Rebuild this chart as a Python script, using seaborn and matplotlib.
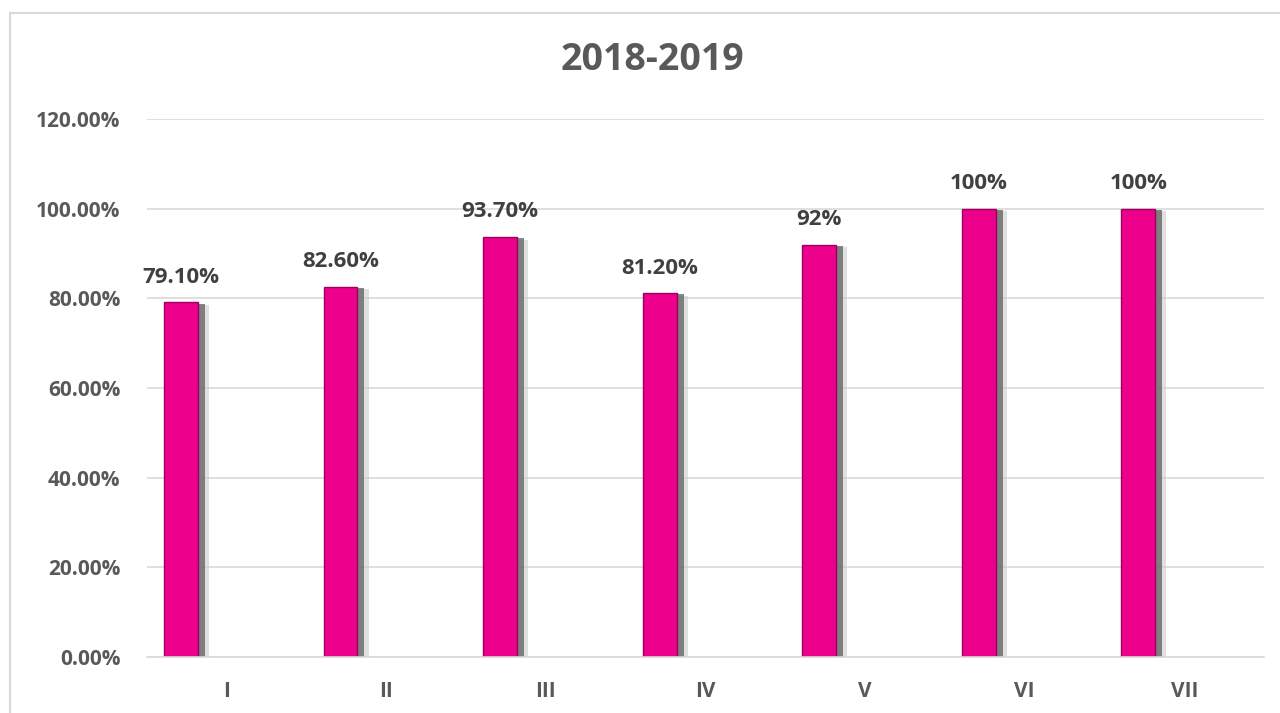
"""
2018-2019 bar chart, Excel style (pink bars, drop shadow).
"""

import numpy as np
import pandas as pd
import matplotlib
matplotlib.use("Agg")
import matplotlib.pyplot as plt
import matplotlib.patheffects as pe
from matplotlib.patches import Rectangle
import seaborn as sns

# data
categories = ["I", "II", "III", "IV", "V", "VI", "VII"]
values = [0.791, 0.826, 0.937, 0.812, 0.92, 1.00, 1.00]
value_labels = ["79.10%", "82.60%", "93.70%", "81.20%", "92%", "100%", "100%"]
y_ticks = [0.0, 0.2, 0.4, 0.6, 0.8, 1.0, 1.2]
title = "2018-2019"

BAR_COLOR = "#EC008C"
TEXT_GRAY = "#595959"
LABEL_DARK = "#404040"
GRID_GRAY = "#D9D9D9"

sns.set_theme(style="white")
plt.rcParams["font.family"] = ["Open Sans", "DejaVu Sans"]

# second (empty) series reproduces the Excel offset of the bars
df = pd.DataFrame({
    "cat": categories * 2,
    "val": values + [np.nan] * len(values),
    "series": ["a"] * len(values) + ["b"] * len(values),
})

fig = plt.figure(figsize=(12.8, 7.13), dpi=100)
ax = fig.add_axes([0.1148, 0.0785, 0.8727, 0.7546])

sns.barplot(
    data=df, x="cat", y="val", hue="series", hue_order=["a", "b"],
    order=categories, palette=[BAR_COLOR, BAR_COLOR], width=1.148, gap=0.63,
    saturation=1, errorbar=None, legend=False, ax=ax,
    edgecolor="#9E0060", linewidth=1.0,
)

for patch in ax.patches:
    patch.set_path_effects([
        pe.SimplePatchShadow(offset=(8, -2), shadow_rgbFace="#CCCCCC", alpha=0.6),
        pe.SimplePatchShadow(offset=(5, -1), shadow_rgbFace="#555555", alpha=0.7),
        pe.Normal(),
    ])

# data labels above the visible bars
bars = [p for p in ax.patches if np.isfinite(p.get_height()) and p.get_height() > 0]
for bar, lab in zip(bars, value_labels):
    ax.annotate(
        lab, (bar.get_x() + bar.get_width() / 2, bar.get_height()),
        xytext=(0, 14), textcoords="offset points", ha="center", va="baseline",
        fontsize=16, fontweight="bold", color=LABEL_DARK,
    )

ax.set_xlim(-0.5, len(categories) - 0.5)
ax.set_ylim(0, 1.2)
ax.set_yticks(y_ticks)
ax.set_yticklabels([f"{t * 100:.2f}%" for t in y_ticks])
ax.yaxis.grid(True, color=GRID_GRAY, linewidth=1.2)
ax.set_axisbelow(True)
ax.set_xlabel("")
ax.set_ylabel("")
for side in ["top", "right", "left"]:
    ax.spines[side].set_visible(False)
ax.spines["bottom"].set_color(GRID_GRAY)
ax.spines["bottom"].set_linewidth(1.2)
ax.tick_params(axis="both", length=0, labelsize=15, labelcolor=TEXT_GRAY)
ax.tick_params(axis="y", pad=19)
ax.tick_params(axis="x", pad=17)
for lab in ax.get_xticklabels() + ax.get_yticklabels():
    lab.set_fontweight("bold")

fig.text(0.51, 0.916, title, ha="center", va="center",
         fontsize=27, fontweight="bold", color=TEXT_GRAY)

# chart frame
fig.patches.append(Rectangle((10 / 1280, -0.05), 1.1, 1 - 13 / 713 + 0.05,
                             transform=fig.transFigure, fill=False,
                             edgecolor=GRID_GRAY, linewidth=1.5))

fig.savefig("out.png", dpi=100)
